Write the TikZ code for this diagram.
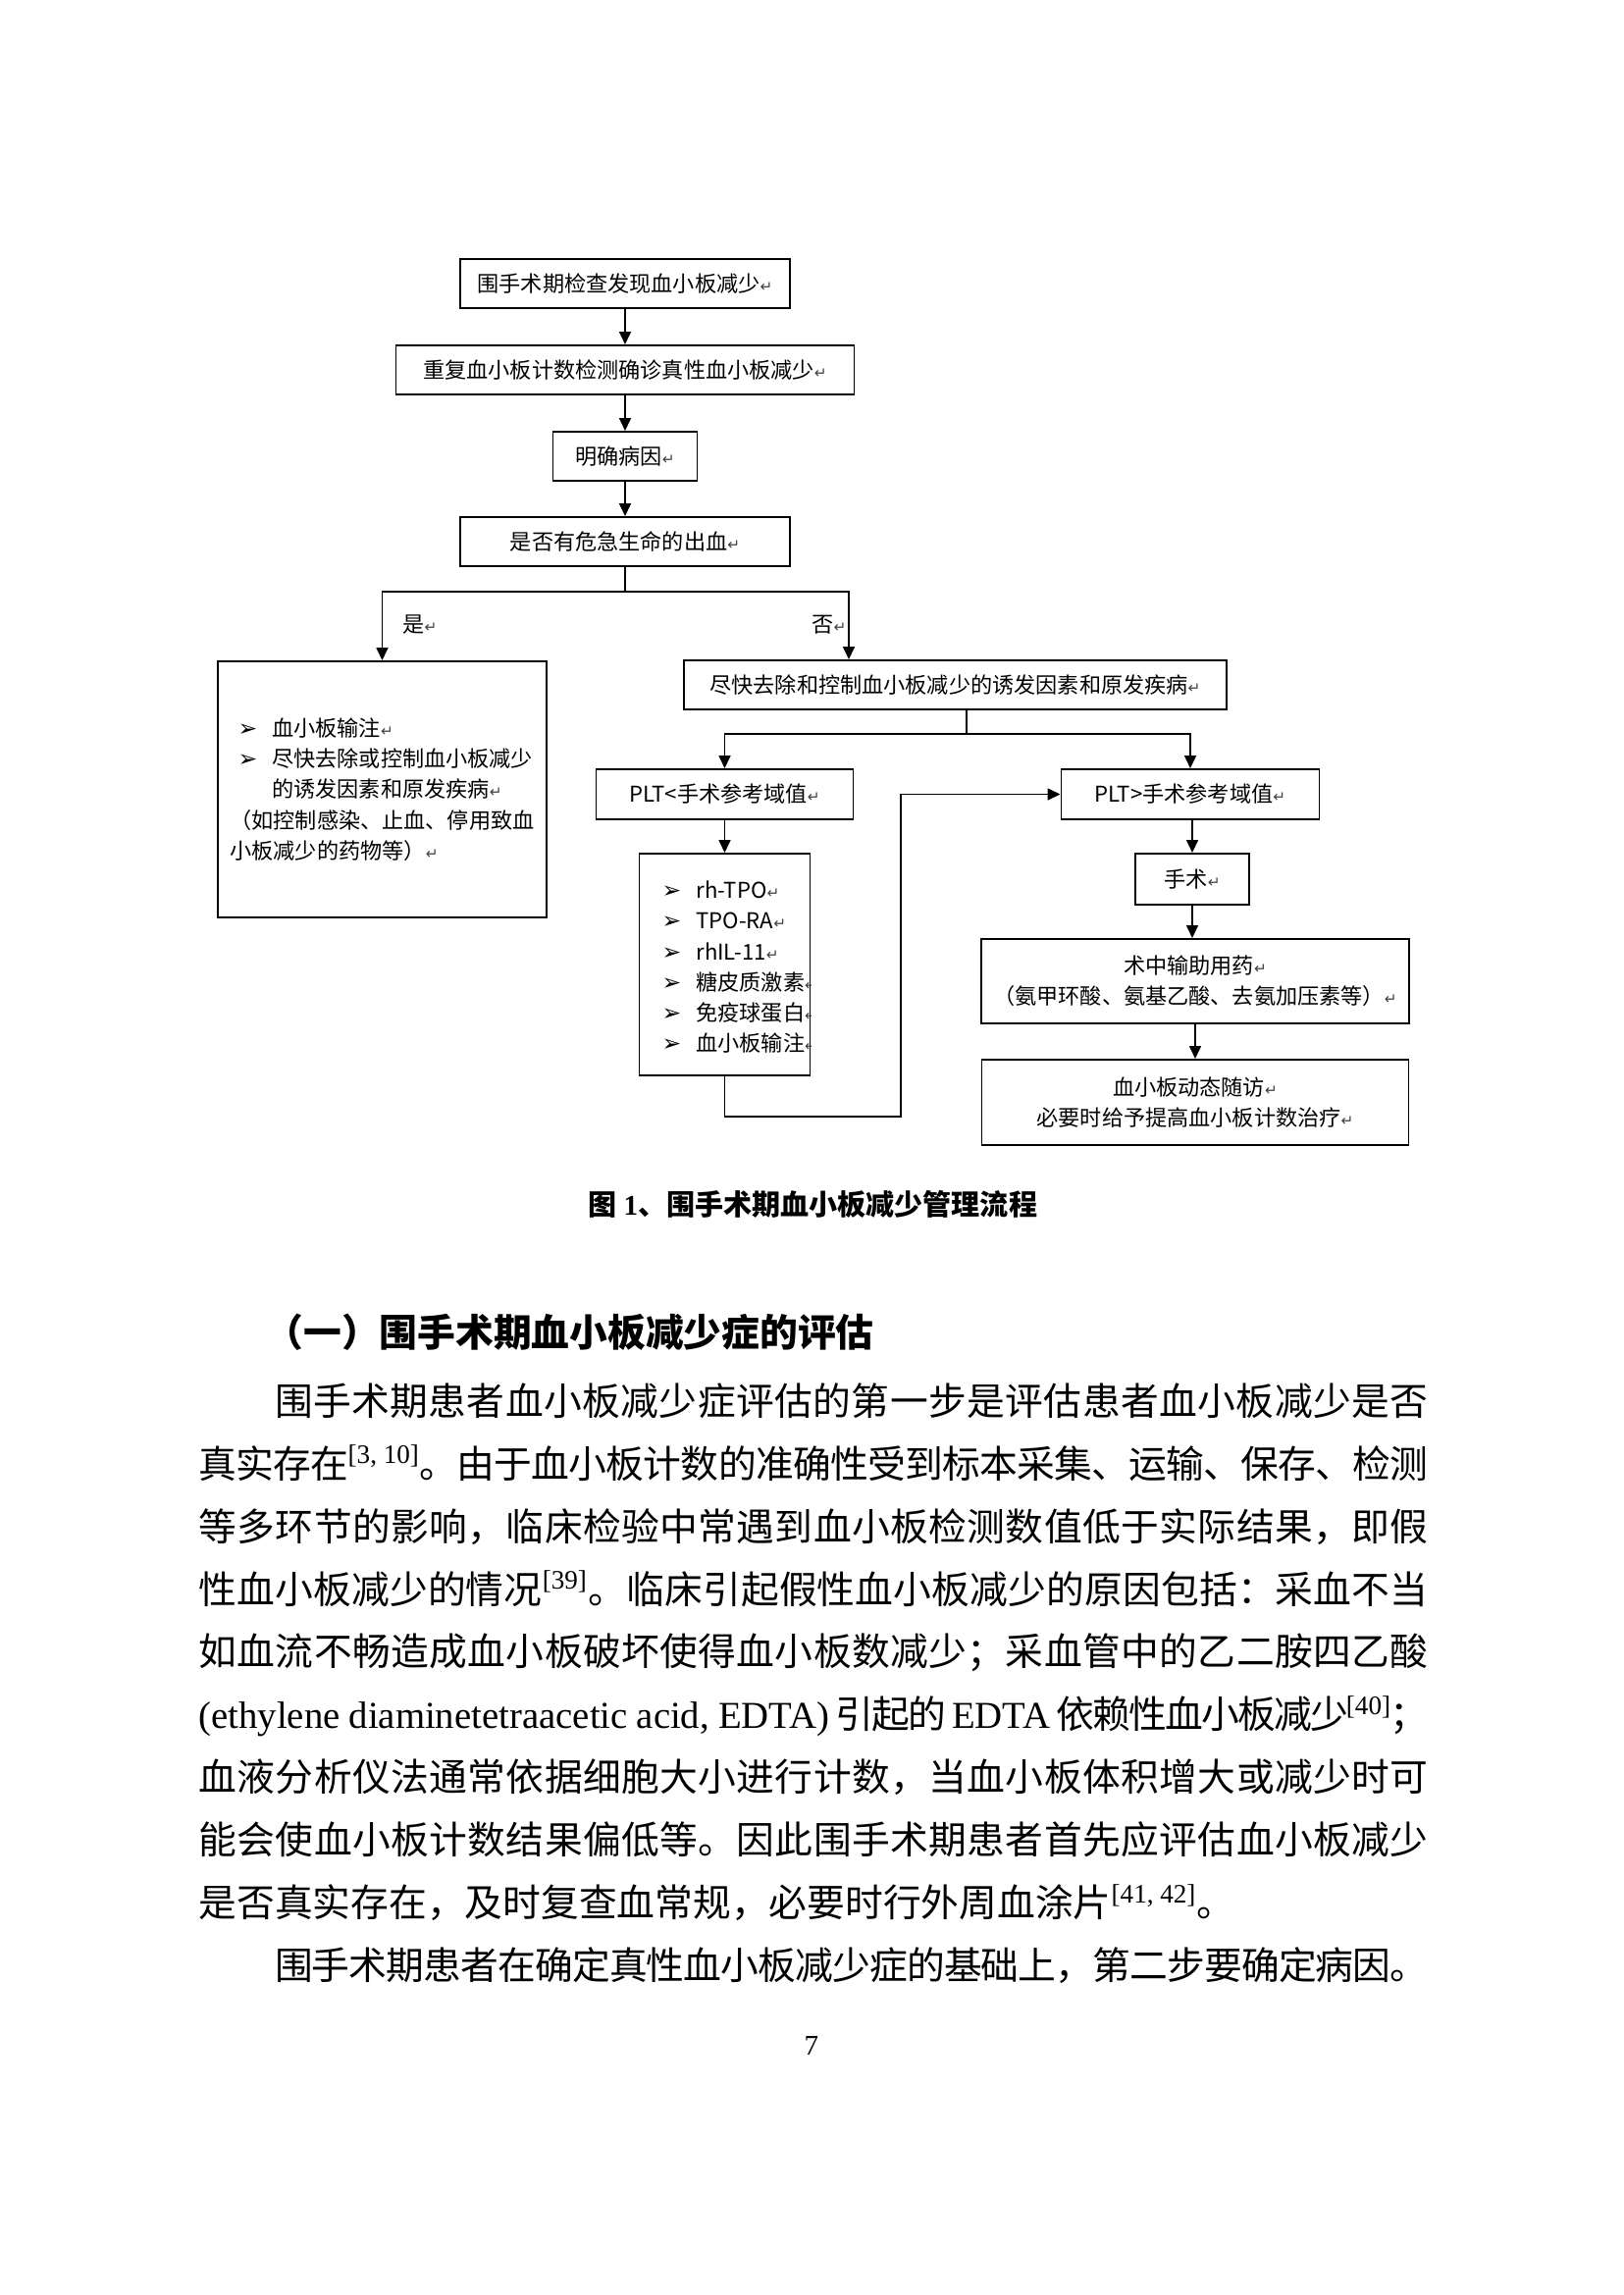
\documentclass[tikz,border=0pt]{standalone}
\usepackage{fontspec}
\setmainfont{Noto Sans CJK SC}
\newfontfamily\lat{Liberation Serif}
\newfontfamily\sym{DejaVu Sans}
\usetikzlibrary{arrows.meta,positioning}
\newcommand\ret{{\color{black!75}\sym\fontsize{5.5pt}{5.5pt}\selectfont ↵}}
\newcommand\arrowmark{\makebox[12.6pt][l]{\sym\fontsize{8.5pt}{8.5pt}\selectfont ➢}}
\newcommand\blt{\hspace*{2.9pt}\arrowmark}
\newcommand\refmark[1]{\textsuperscript{\lat #1}}
% 正文各行两端对齐：逐字插入可伸缩间距
\makeatletter
\def\spr@end{spr@end}
\def\spreadline#1{\spr@first#1\spr@end}
\def\spr@first#1{#1\spr@next}
\def\spr@next#1{\ifx\spr@end#1\else\hskip 0pt plus 1fil minus 3pt\relax#1\expandafter\spr@next\fi}
\makeatother
\newcommand\refa{\refmark{[3, 10]}}
\newcommand\refb{\refmark{[39]}}
\newcommand\refc{\refmark{[40]}}
\newcommand\edtaname{{\lat (ethylene diaminetetraacetic acid, EDTA)}\ }
\newcommand\edtaword{\ {\lat EDTA}\ }

\begin{document}
\begin{tikzpicture}[x=0.126965mm,y=-0.126965mm,
    box/.style={draw,line width=0.7pt,inner sep=0pt,align=center,
      font=\fontsize{8pt}{11.2pt}\selectfont},
    wh/.style 2 args={minimum width=#1*0.126965mm,minimum height=#2*0.126965mm},
    lnk/.style={line width=0.7pt},
    arr/.style={line width=0.7pt,-{Triangle[length=4.7pt,width=4.3pt]}},
    lbl/.style={inner sep=0pt,font=\fontsize{8pt}{11.2pt}\selectfont},
    body/.style={anchor=base west,inner sep=0pt,font=\fontsize{14pt}{20pt}\selectfont}]
  \useasboundingbox (0,0) rectangle (1654,2339);

  % ---- 流程图：上部主干 ----
  \node[box,wh={336}{50}] (check) at (637,289) {围手术期检查发现血小板减少\ret};
  \node[box,wh={467}{50}] (recheck) at (637,377) {重复血小板计数检测确诊真性血小板减少\ret};
  \node[box,wh={147}{50}] (cause) at (637,465) {明确病因\ret};
  \node[box,wh={336}{50}] (bleed) at (637,552) {是否有危急生命的出血\ret};
  \draw[arr] (check) -- (recheck);
  \draw[arr] (recheck) -- (cause);
  \draw[arr] (cause) -- (bleed);

  % ---- 是／否 分支 ----
  % 是：左侧大框（列表左对齐）
  \node[box,wh={335}{261},align=left,font=\fontsize{8pt}{11.3pt}\selectfont] (yes) at (389.5,804.5)
    {\blt 血小板输注\ret\\
     \blt 尽快去除或控制血小板减少\\
     \hspace*{15.5pt}的诱发因素和原发疾病\ret\\
     （如控制感染、止血、停用致血\\
     小板减少的药物等）\ret};
  % 否：去除诱因
  \node[box,wh={553}{50}] (remove) at (973.5,698) {尽快去除和控制血小板减少的诱发因素和原发疾病\ret};

  \coordinate (split) at (637,603);
  \coordinate (noin) at (865,698);
  \draw[lnk] (bleed) -- (split);
  \draw[arr] (split) -| (yes.north);
  \draw[arr] (split) -| (noin |- remove.north);
  \node[lbl,anchor=west] (yeslbl) at (410,637) {是\ret};
  \node[lbl,anchor=west] (nolbl) at (827,637) {否\ret};

  % ---- PLT 两个分支 ----
  \coordinate (split2) at (985,748);
  \node[box,wh={262}{51}] (pltlow) at (738.5,809.5) {PLT<手术参考域值\ret};
  \node[box,wh={263}{51}] (plthigh) at (1213,809.5) {PLT>手术参考域值\ret};
  \draw[lnk] (split2 |- remove.south) -- (split2);
  \draw[arr] (split2) -| (pltlow);
  \draw[arr] (split2) -| (plthigh);

  % 左：升血小板措施（右边缘裁掉部分文字）
  \node[box,wh={174}{226}] (drug) at (738.5,983) {};
  \draw[arr] (pltlow) -- (drug);
  \begin{scope}
    \clip (drug.north west) rectangle (drug.south east);
    \foreach \drugname [count=\i] in {rh-TPO\ret,TPO-RA\ret,rhIL-11\ret,糖皮质激素\ret,免疫球蛋白\ret,血小板输注\ret} {
      \node[lbl,anchor=base west] (drug\i) at (674,{884.1+31.3*\i}) {\arrowmark\drugname};
    }
  \end{scope}
  % 回到 PLT> 的折线
  \coordinate (back) at (918,1138);
  \draw[arr] (drug) |- (back) |- (plthigh);

  % 右：手术及术后
  \node[box,wh={116}{52}] (surg) at (1215,896) {手术\ret};
  \node[box,wh={436}{86}] (intra) at (1218,1000) {术中输助用药\ret\\（氨甲环酸、氨基乙酸、去氨加压素等）\ret};
  \node[box,wh={435}{87}] (follow) at (1218,1123.5) {血小板动态随访\ret\\必要时给予提高血小板计数治疗\ret};
  \draw[arr] (plthigh.south -| surg) -- (surg);
  \draw[arr] (surg.south) -- (surg.south |- intra.north);
  \draw[arr] (intra) -- (follow);

  % ---- 图题 ----
  \node[anchor=base,inner sep=0pt,font=\fontsize{10.5pt}{12pt}\selectfont\bfseries] (caption) at (828.5,1238)
    {图 {\lat 1}、围手术期血小板减少管理流程};

  % ---- 正文 ----
  \node[body] (head) at (270,1372.8) {\bfseries （一）围手术期血小板减少症的评估};
  \node[body] (line1) at (279.5,1442.3) {\makebox[424.6pt][s]{\spreadline{围手术期患者血小板减少症评估的第一步是评估患者血小板减少是否}}};
  \node[body] (line2) at (202,1506.2) {\makebox[452.6pt][s]{\spreadline{真实存在\refa 。由于血小板计数的准确性受到标本采集、运输、保存、检测}}};
  \node[body] (line3) at (202,1570.1) {\makebox[452.6pt][s]{\spreadline{等多环节的影响，临床检验中常遇到血小板检测数值低于实际结果，即假}}};
  \node[body] (line4) at (202,1634.0) {\makebox[452.6pt][s]{\spreadline{性血小板减少的情况\refb 。临床引起假性血小板减少的原因包括：采血不当}}};
  \node[body] (line5) at (202,1697.9) {\makebox[452.6pt][s]{\spreadline{如血流不畅造成血小板破坏使得血小板数减少；采血管中的乙二胺四乙酸}}};
  \node[body] (line6) at (202,1761.8) {\makebox[452.6pt][s]{\spreadline{\edtaname 引起的\edtaword 依赖性血小板减少\refc ；}}};
  \node[body] (line7) at (202,1825.7) {\makebox[452.6pt][s]{\spreadline{血液分析仪法通常依据细胞大小进行计数，当血小板体积增大或减少时可}}};
  \node[body] (line8) at (202,1889.6) {\makebox[452.6pt][s]{\spreadline{能会使血小板计数结果偏低等。因此围手术期患者首先应评估血小板减少}}};
  \node[body] (line9) at (202,1953.5) {是否真实存在，及时复查血常规，必要时行外周血涂片\refmark{[41, 42]}。};
  \node[body] (line10) at (279.5,2017.4) {\makebox[424.6pt][s]{\spreadline{围手术期患者在确定真性血小板减少症的基础上，第二步要确定病因。}}};

  % ---- 页码 ----
  \node[anchor=base,inner sep=0pt,font=\lat\fontsize{10.5pt}{12pt}\selectfont] (pageno) at (827,2094) {7};
\end{tikzpicture}
\end{document}
